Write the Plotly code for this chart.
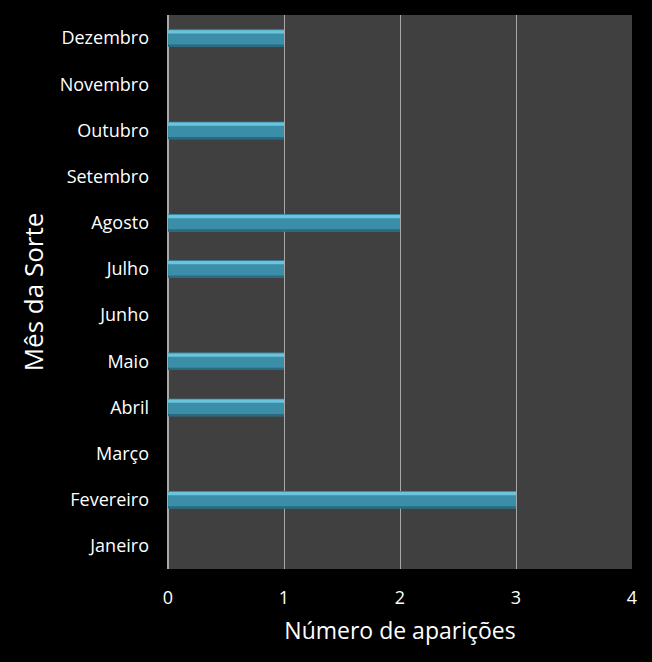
import plotly.graph_objects as go

months = ["Janeiro", "Fevereiro", "Março", "Abril", "Maio", "Junho",
          "Julho", "Agosto", "Setembro", "Outubro", "Novembro", "Dezembro"]
counts = [0, 3, 0, 1, 1, 0, 1, 2, 0, 1, 0, 1]
x_ticks = [0, 1, 2, 3, 4]

fig = go.Figure()
fig.add_trace(go.Bar(
    y=months, x=counts, orientation="h", width=0.38,
    marker=dict(color="#3a8ea8", line=dict(width=0)),
    hoverinfo="x+y",
))
# darker bottom edge
fig.add_trace(go.Bar(
    y=months, x=counts, orientation="h", width=0.05, offset=-0.19,
    marker=dict(color="#2a6a80", line=dict(width=0)),
    hoverinfo="skip",
))
# highlight strip on top of bars
fig.add_trace(go.Bar(
    y=months, x=counts, orientation="h", width=0.07, offset=0.1,
    marker=dict(color="#6cc4dc", line=dict(width=0)),
    hoverinfo="skip",
))

fig.update_layout(
    width=652, height=662,
    paper_bgcolor="#000000",
    plot_bgcolor="#404040",
    margin=dict(l=168, r=20, t=15, b=93),
    showlegend=False,
    barmode="overlay",
    font=dict(family="Open Sans, Lato, sans-serif", color="#ffffff", size=18),
    xaxis=dict(
        range=[0, 4], tickvals=x_ticks, showgrid=True, gridcolor="#a8a8a8", gridwidth=1,
        zeroline=True, zerolinecolor="#a8a8a8", showline=False, ticks="",
        ticklabelstandoff=16,
        tickfont=dict(size=18, color="#ffffff"),
        title=dict(text="Número de aparições", font=dict(size=23, color="#ffffff"), standoff=14),
        fixedrange=True,
    ),
    yaxis=dict(
        categoryorder="array", categoryarray=months, range=[-0.5, 11.5],
        showgrid=False, ticks="", ticklabelstandoff=18,
        tickfont=dict(size=18, color="#ffffff"),
        title=dict(text="Mês da Sorte", font=dict(size=26, color="#ffffff"), standoff=8),
        fixedrange=True,
    ),
)

fig.write_html("out.html")
